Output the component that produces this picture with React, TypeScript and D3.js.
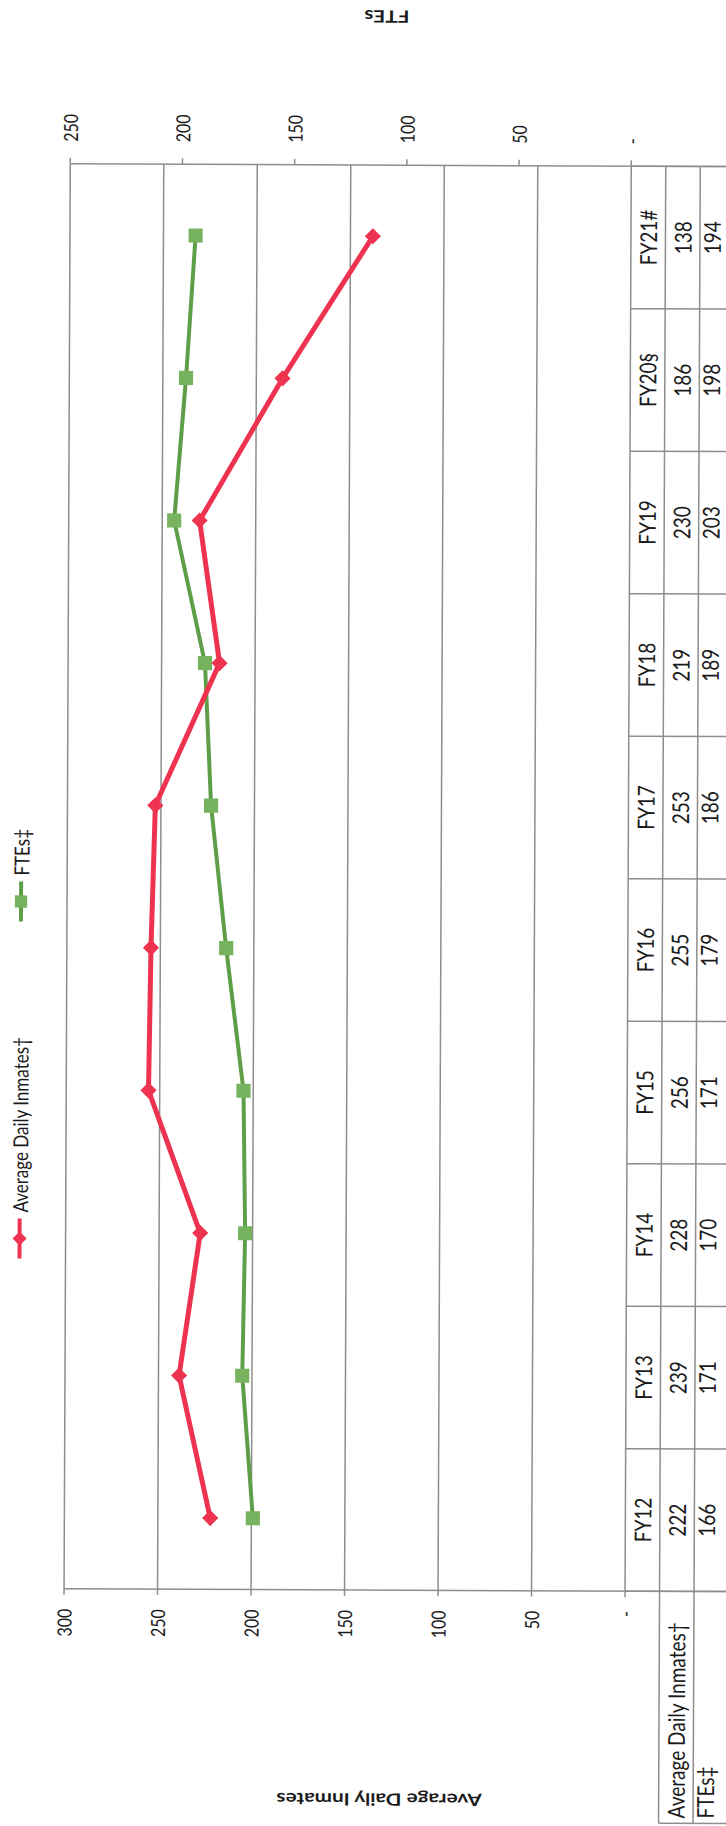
import React from 'react';
import * as d3 from 'd3';

const categories = ['FY12', 'FY13', 'FY14', 'FY15', 'FY16', 'FY17', 'FY18', 'FY19', 'FY20§', 'FY21#'];
const inmates = [222, 239, 228, 256, 255, 253, 219, 230, 186, 138];
const ftes = [166, 171, 170, 171, 179, 186, 189, 203, 198, 194];
const inmateTicks = [0, 50, 100, 150, 200, 250, 300];
const inmateTickLabels = ['-', '50', '100', '150', '200', '250', '300'];
const fteTicks = [0, 50, 100, 150, 200, 250];
const fteTickLabels = ['-', '50', '100', '150', '200', '250'];
const seriesNames = ['Average Daily Inmates†', 'FTEs‡'];

const W = 726;
const H = 1826;
const RED = '#ee3350';
const GREEN_LINE = '#5f9e49';
const GREEN = '#77b25e';
const GRID = '#8e8e8e';
const FONT = 'Lato, "Open Sans", sans-serif';

// the scan is stretched across the page, so glyphs get a bit wider that way
const STRETCH = 1.22;

const vtext = (x: number, y: number) => `translate(${x},${y}) rotate(-90) scale(1,${STRETCH})`;
const flipped = (x: number, y: number) => `translate(${x},${y}) rotate(180) scale(${STRETCH},1)`;

export default function App() {
  const plot = { left: 67, right: 628, top: 165, bottom: 1590 };
  const cols = [628, 662.5, 697, 745];
  const lastColMid = 709;
  const headerBottom = 1822;

  const yBand = d3.scaleBand<string>().domain(categories).range([plot.bottom, plot.top]);
  const yc = (c: string) => (yBand(c) as number) + yBand.bandwidth() / 2;
  const xInm = d3.scaleLinear().domain([0, 300]).range([plot.right, plot.left]);
  const xFte = d3.scaleLinear().domain([0, 250]).range([plot.right, plot.left]);

  const inmLine = d3.line<number>().x(d => xInm(d)).y((d, i) => yc(categories[i]));
  const fteLine = d3.line<number>().x(d => xFte(d)).y((d, i) => yc(categories[i]));

  const diamond = d3.symbol(d3.symbolSquare, 130)();
  const square = d3.symbol(d3.symbolSquare, 200)();

  const bandEdges = categories.map(c => yBand(c) as number).concat([plot.bottom]);

  const legend = [
    { name: seriesNames[0], y: 1240, color: RED, marker: 'diamond' },
    { name: seriesNames[1], y: 903, color: GREEN_LINE, marker: 'square' },
  ];

  const textStyle = { fontFamily: FONT, fill: '#1b1b1b' };

  return (
    <svg width={W} height={H} style={{ position: 'absolute', left: 0, top: 0, background: '#fff' }}>
      <g transform={`rotate(0.25 ${W / 2} ${H / 2})`}>
        {/* gridlines from the inmate axis */}
        {inmateTicks.filter(t => t > 0).map(t => (
          <line key={'g' + t} x1={xInm(t)} x2={xInm(t)} y1={plot.top} y2={plot.bottom} stroke={GRID} strokeWidth={1.5} />
        ))}

        {/* top (FTE) axis line + ticks, runs across the table */}
        <line x1={plot.left} x2={cols[3]} y1={plot.top} y2={plot.top} stroke={GRID} strokeWidth={1.5} />
        {fteTicks.map(t => (
          <line key={'ft' + t} x1={xFte(t)} x2={xFte(t)} y1={plot.top} y2={plot.top - 6} stroke={GRID} strokeWidth={1.5} />
        ))}
        {fteTicks.map((t, i) => (
          <text key={'fl' + t} transform={vtext(xFte(t), plot.top - 22)} textAnchor="start" dominantBaseline="central" fontSize={16} style={textStyle}>
            {fteTickLabels[i]}
          </text>
        ))}

        {/* bottom (inmates) axis line + ticks */}
        <line x1={plot.left} x2={cols[3]} y1={plot.bottom} y2={plot.bottom} stroke={GRID} strokeWidth={1.5} />
        {inmateTicks.map(t => (
          <line key={'it' + t} x1={xInm(t)} x2={xInm(t)} y1={plot.bottom} y2={plot.bottom + 6} stroke={GRID} strokeWidth={1.5} />
        ))}
        {inmateTicks.map((t, i) => (
          <text key={'il' + t} transform={vtext(xInm(t), plot.bottom + 20)} textAnchor="end" dominantBaseline="central" fontSize={16} style={textStyle}>
            {inmateTickLabels[i]}
          </text>
        ))}

        {/* data table */}
        {cols.slice(0, 3).map((x, i) => (
          <line key={'tc' + i} x1={x} x2={x} y1={plot.top} y2={plot.bottom} stroke={GRID} strokeWidth={1.5} />
        ))}
        {bandEdges.map((y, i) => (
          <line key={'tr' + i} x1={cols[0]} x2={cols[3]} y1={y} y2={y} stroke={GRID} strokeWidth={1.5} />
        ))}
        {categories.map((c, i) => (
          <g key={'row' + c}>
            <text transform={vtext((cols[0] + cols[1]) / 2, yc(c))} textAnchor="middle" dominantBaseline="central" fontSize={19} style={textStyle}>{c}</text>
            <text transform={vtext((cols[1] + cols[2]) / 2, yc(c))} textAnchor="middle" dominantBaseline="central" fontSize={19} style={textStyle}>{inmates[i]}</text>
            <text transform={vtext(lastColMid, yc(c))} textAnchor="middle" dominantBaseline="central" fontSize={19} style={textStyle}>{ftes[i]}</text>
          </g>
        ))}

        {/* row headers below the table */}
        <line x1={cols[1]} x2={cols[1]} y1={plot.bottom} y2={headerBottom} stroke={GRID} strokeWidth={1.5} />
        <line x1={cols[2]} x2={cols[2]} y1={plot.bottom} y2={headerBottom} stroke={GRID} strokeWidth={1.5} />
        <line x1={cols[1]} x2={cols[3]} y1={headerBottom} y2={headerBottom} stroke={GRID} strokeWidth={1.5} />
        <text transform={vtext((cols[1] + cols[2]) / 2, headerBottom - 5)} textAnchor="start" dominantBaseline="central" fontSize={19} style={textStyle}>{seriesNames[0]}</text>
        <text transform={vtext(lastColMid, headerBottom - 5)} textAnchor="start" dominantBaseline="central" fontSize={19} style={textStyle}>{seriesNames[1]}</text>

        {/* series */}
        <path d={fteLine(ftes) || ''} fill="none" stroke={GREEN_LINE} strokeWidth={4} strokeLinejoin="round" />
        {ftes.map((v, i) => (
          <path key={'fm' + i} d={square || ''} transform={`translate(${xFte(v)},${yc(categories[i])})`} fill={GREEN} />
        ))}
        <path d={inmLine(inmates) || ''} fill="none" stroke={RED} strokeWidth={5} strokeLinejoin="round" />
        {inmates.map((v, i) => (
          <path key={'im' + i} d={diamond || ''} transform={`translate(${xInm(v)},${yc(categories[i])}) rotate(45)`} fill={RED} />
        ))}

        {/* legend */}
        {legend.map(l => (
          <g key={l.name}>
            <line x1={21} x2={21} y1={l.y - 20} y2={l.y + 20} stroke={l.color} strokeWidth={4} />
            {l.marker === 'diamond'
              ? <path d={d3.symbol(d3.symbolSquare, 100)() || ''} transform={`translate(21,${l.y}) rotate(45)`} fill={RED} />
              : <path d={d3.symbol(d3.symbolSquare, 150)() || ''} transform={`translate(21,${l.y})`} fill={GREEN} />}
            <text transform={vtext(21, l.y - 26)} textAnchor="start" dominantBaseline="central" fontSize={17} style={textStyle}>{l.name}</text>
          </g>
        ))}

        {/* axis titles, upside down like the scan */}
        <text transform={flipped(383, 17)} textAnchor="middle" dominantBaseline="central" fontSize={17} fontWeight="bold" style={textStyle}>FTEs</text>
        <text transform={flipped(383, 1800)} textAnchor="middle" dominantBaseline="central" fontSize={17} fontWeight="bold" style={textStyle}>Average Daily Inmates</text>
      </g>
    </svg>
  );
}
